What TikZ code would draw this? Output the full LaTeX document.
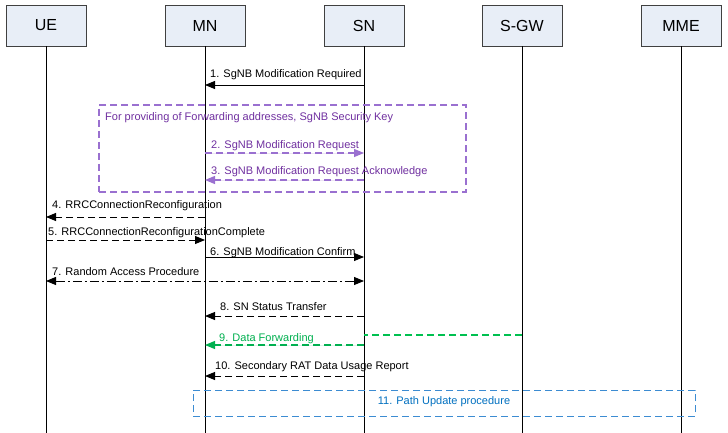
\documentclass[tikz,border=0pt]{standalone}
\usepackage{fontspec}
\setmainfont{Liberation Sans}
\usetikzlibrary{arrows.meta}
\definecolor{hdrfill}{HTML}{E8EEF7}
\definecolor{hdrline}{HTML}{404040}
\definecolor{purp}{HTML}{7030A0}
\definecolor{purpline}{HTML}{9A70D0}
\definecolor{grn}{HTML}{00B050}
\definecolor{grnline}{HTML}{00C050}
\definecolor{blu}{HTML}{0070C0}
\definecolor{bluline}{HTML}{3C8CD2}
\begin{document}
\begin{tikzpicture}[x=1pt,y=-1pt,
  hdr/.style={draw=hdrline,fill=hdrfill,minimum width=80pt,minimum height=41pt,inner sep=0pt,font=\fontsize{16}{16}\selectfont},
  life/.style={draw=black,line width=0.8pt},
  msg/.style={line width=0.9pt,-{Triangle[length=10pt,width=8pt]}},
  bmsg/.style={line width=0.9pt,{Triangle[length=10pt,width=8pt]}-{Triangle[length=10pt,width=8pt]}},
  dsh/.style={dash pattern=on 7pt off 4pt},
  dashdot/.style={dash pattern=on 9pt off 3pt on 2pt off 3pt},
  lbl/.style={anchor=base west,inner sep=0pt,font=\fontsize{11}{11}\selectfont}
]
\useasboundingbox (0,0) rectangle (728,433);
\fill[white] (0,0) rectangle (728,433);

% headers
\node[hdr] (UE)  at (46,25.5)  {UE};
\node[hdr] (MN)  at (205,25.5) {MN};
\node[hdr] (SN)  at (364,25.5) {SN};
\node[hdr] (SGW) at (522,25.5) {S-GW};
\node[hdr] (MME) at (681,25.5) {MME};

% lifeline ends
\coordinate (UEe)  at (46,433);
\coordinate (MNe)  at (205,433);
\coordinate (SNe)  at (364,433);
\coordinate (SGWe) at (522,433);
\coordinate (MMEe) at (681,433);
\draw[life] (UE.south) -- (UEe);
\draw[life] (MN.south) -- (MNe);
\draw[life] (SN.south) -- (SNe);
\draw[life] (SGW.south) -- (SGWe);
\draw[life] (MME.south) -- (MMEe);

% message points
\foreach \n/\y in {1/85,2/153,3/180,4/217,5/240,6/257,7/281,8/316,9/345,10/376}{
  \coordinate (ue\n) at (46,\y);
  \coordinate (mn\n) at (205,\y);
  \coordinate (sn\n) at (364,\y);
}
\coordinate (sn9b) at (364,335);
\coordinate (sgw9) at (522,335);

% purple box
\node[draw=purpline,dsh,line width=1.1pt,minimum width=367pt,minimum height=87pt,inner sep=0pt] (pbox) at (282.5,148.5) {};
\node[lbl,text=purp] (ptxt) at (105,121) {For providing of Forwarding addresses, SgNB Security Key};

% 1
\draw[msg] (sn1) -- (mn1);
\node[lbl] (l1) at (210,78) {1. SgNB Modification Required};
% 2
\draw[msg,dsh,line width=1.1pt,draw=purpline,fill=purp] (mn2) -- (sn2);
\node[lbl,text=purp] (l2) at (211,149) {2. SgNB Modification Request};
% 3
\draw[msg,dsh,line width=1.1pt,draw=purpline,fill=purp] (sn3) -- (mn3);
\node[lbl,text=purp] (l3) at (211,175) {3. SgNB Modification Request Acknowledge};
% 4
\draw[msg,dsh] (mn4) -- (ue4);
\node[lbl] (l4) at (52,208) {4. RRCConnectionReconfiguration};
% 5
\draw[msg,dsh] (ue5) -- (mn5);
\node[lbl] (l5) at (48,235) {5. RRCConnectionReconfigurationComplete};
% 6
\draw[msg] (mn6) -- (sn6);
\node[lbl] (l6) at (210,255) {6. SgNB Modification Confirm};
% 7
\draw[bmsg,dashdot] (ue7) -- (sn7);
\node[lbl] (l7) at (52,275) {7. Random Access Procedure};
% 8
\draw[msg,dsh] (sn8) -- (mn8);
\node[lbl] (l8) at (220,310) {8. SN Status Transfer};
% 9
\draw[line width=1.2pt,dsh,draw=grnline] (sgw9) -- (sn9b);
\draw[msg,dsh,line width=1.1pt,draw=grn,fill=grn] (sn9) -- (mn9);
\node[lbl,text=grn] (l9) at (219,341) {9. Data Forwarding};
% 10
\draw[msg,dsh] (sn10) -- (mn10);
\node[lbl] (l10) at (215,369) {10. Secondary RAT Data Usage Report};
% 11
\node[draw=bluline,dsh,line width=1pt,minimum width=502pt,minimum height=26pt,inner sep=0pt] (bbox) at (444,403) {};
\node[lbl,text=blu,anchor=center] (l11) at (444,402) {11. Path Update procedure};
\end{tikzpicture}
\end{document}
